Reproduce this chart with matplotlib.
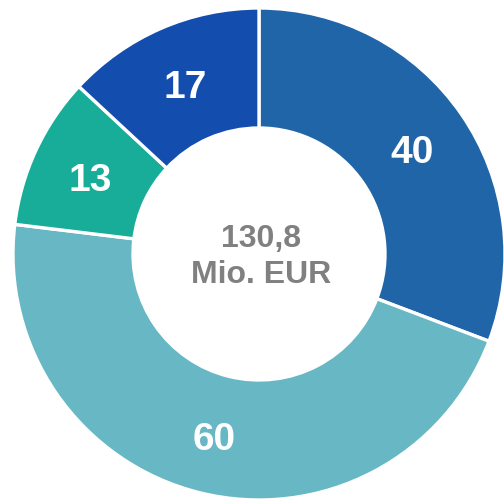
import matplotlib
matplotlib.use("Agg")
import matplotlib.pyplot as plt
import numpy as np

values = [40, 60, 13, 17]
labels = ["40", "60", "13", "17"]
colors = ["#2165A9", "#67B8C4", "#17AD98", "#134DAE"]
center_text = "130,8\nMio. EUR"

plt.rcParams['font.family'] = ['Liberation Sans', 'DejaVu Sans']

fig = plt.figure(figsize=(5.04, 5.0), dpi=100)
ax = fig.add_axes([0, 0, 1, 1])

cx, cy = 259, 246
R = 246
w = 120
wedges, _ = ax.pie(values, colors=colors, startangle=90, counterclock=False,
                   radius=R, center=(cx, cy), frame=True,
                   wedgeprops=dict(width=w, edgecolor='white', linewidth=2.4))
ax.set_xlim(0, 504)
ax.set_ylim(0, 500)
ax.set_aspect('auto')
ax.axis('off')

rl = R - w / 2
for wd, lab in zip(wedges, labels):
    ang = np.deg2rad((wd.theta1 + wd.theta2) / 2)
    ax.text(cx + rl * np.cos(ang), cy + rl * np.sin(ang) - 5, lab,
            ha='center', va='center', color='white', fontsize=28, fontweight='bold')

ax.text(cx + 2, cy - 3, center_text, ha='center', va='center', color='#808080',
        fontsize=23, fontweight='bold', linespacing=1.25)

fig.savefig("out.png", dpi=100)
